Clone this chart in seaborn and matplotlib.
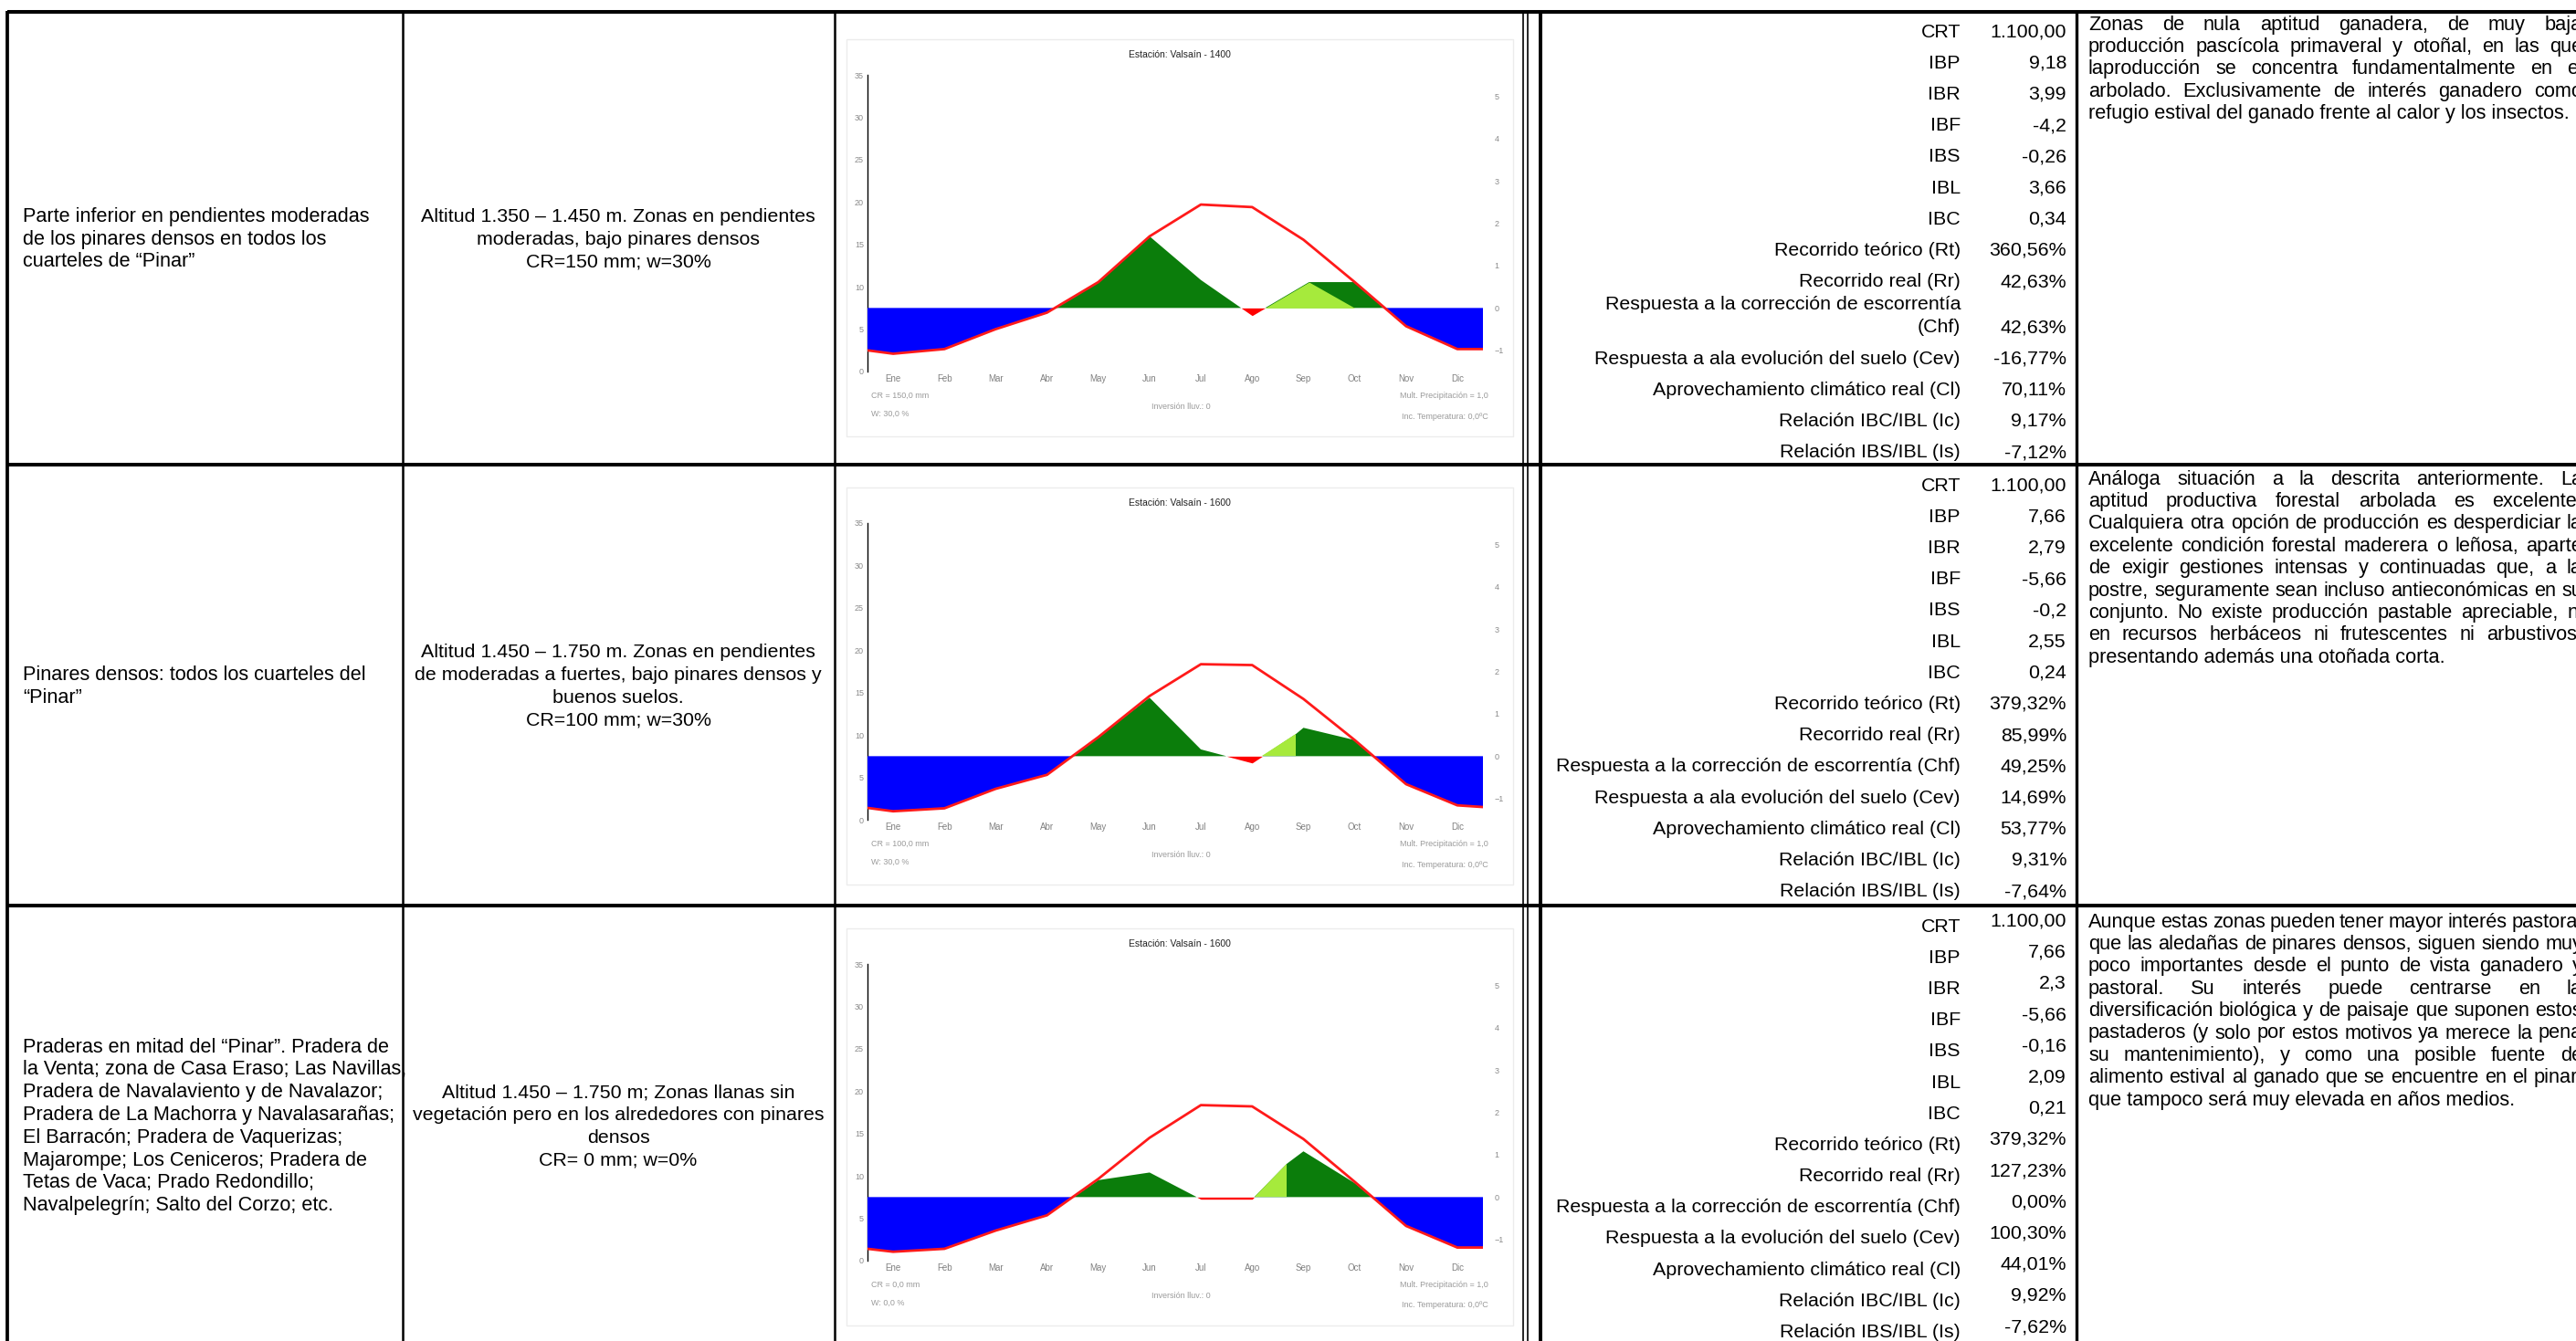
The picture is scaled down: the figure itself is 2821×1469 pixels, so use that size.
import numpy as np
import matplotlib
matplotlib.use("Agg")
import matplotlib.pyplot as plt
import seaborn as sns

ANCHO, ALTO = 2821, 1469

# ---------------- datos de los gráficos ----------------
meses = ["Ene", "Feb", "Mar", "Abr", "May", "Jun", "Jul", "Ago", "Sep", "Oct", "Nov", "Dic"]

# curva roja (eje derecho): borde izquierdo, 12 meses, borde derecho
x_curva = [-0.5, 0, 1, 2, 3, 4, 5, 6, 7, 8, 9, 10, 11, 11.5]
curva_1 = [-1.00, -1.08, -0.97, -0.50, -0.11, 0.61, 1.69, 2.44, 2.38, 1.61, 0.61, -0.43, -0.97, -0.97]
curva_2 = [-1.22, -1.30, -1.23, -0.77, -0.44, 0.45, 1.42, 2.17, 2.15, 1.35, 0.38, -0.66, -1.16, -1.20]
curva_3 = [-1.22, -1.29, -1.22, -0.79, -0.43, 0.43, 1.40, 2.17, 2.14, 1.37, 0.36, -0.68, -1.19, -1.19]

# curva verde (balance real) de Abr a Nov, con el punto en que acaba la recuperación
x_verde_1 = [3, 4, 5, 6, 7, 8.11, 9, 10]
verde_1 = [-0.11, 0.61, 1.69, 0.66, -0.18, 0.61, 0.61, -0.43]
x_verde_2 = [3, 4, 5, 6, 7, 7.85, 8, 9, 10]
verde_2 = [-0.44, 0.45, 1.38, 0.16, -0.16, 0.52, 0.67, 0.38, -0.66]
x_verde_3 = [3, 4, 5, 6, 7, 7.68, 8, 9, 10]
verde_3 = [-0.43, 0.40, 0.58, -0.05, -0.05, 0.79, 1.08, 0.33, -0.68]
fin_recuperacion = [8.11, 7.85, 7.68]

estaciones = ["Estación: Valsaín - 1400", "Estación: Valsaín - 1600", "Estación: Valsaín - 1600"]
textos_cr = ["CR = 150,0 mm", "CR = 100,0 mm", "CR = 0,0 mm"]
textos_w = ["W: 30,0 %", "W: 30,0 %", "W: 0,0 %"]

# ---------------- datos de la tabla ----------------
zonas = [
    ["Parte inferior en pendientes moderadas", "de los pinares densos en todos los", "cuarteles de “Pinar”"],
    ["Pinares densos: todos los cuarteles del", "“Pinar”"],
    ["Praderas en mitad del “Pinar”. Pradera de", "la Venta; zona de Casa Eraso; Las Navillas,",
     "Pradera de Navalaviento y de Navalazor;", "Pradera de La Machorra y Navalasarañas;",
     "El Barracón; Pradera de Vaquerizas;", "Majarompe; Los Ceniceros; Pradera de",
     "Tetas de Vaca; Prado Redondillo;", "Navalpelegrín; Salto del Corzo; etc."],
]
condiciones = [
    ["Altitud 1.350 – 1.450 m. Zonas en pendientes", "moderadas, bajo pinares densos", "CR=150 mm; w=30%"],
    ["Altitud 1.450 – 1.750 m. Zonas en pendientes", "de moderadas a fuertes, bajo pinares densos y",
     "buenos suelos.", "CR=100 mm; w=30%"],
    ["Altitud 1.450 – 1.750 m; Zonas llanas sin", "vegetación pero en los alrededores con pinares",
     "densos", "CR= 0 mm; w=0%"],
]

etiquetas_base = ["CRT", "IBP", "IBR", "IBF", "IBS", "IBL", "IBC", "Recorrido teórico (Rt)",
                  "Recorrido real (Rr)", "Respuesta a la corrección de escorrentía (Chf)",
                  "Respuesta a ala evolución del suelo (Cev)", "Aprovechamiento climático real (Cl)",
                  "Relación IBC/IBL (Ic)", "Relación IBS/IBL (Is)"]
etiquetas_1 = etiquetas_base[:9] + ["Respuesta a la corrección de escorrentía\n(Chf)"] + etiquetas_base[10:]
etiquetas_2 = etiquetas_base
etiquetas_3 = etiquetas_base[:10] + ["Respuesta a la evolución del suelo (Cev)"] + etiquetas_base[11:]

valores_1 = ["1.100,00", "9,18", "3,99", "-4,2", "-0,26", "3,66", "0,34", "360,56%", "42,63%",
             "42,63%", "-16,77%", "70,11%", "9,17%", "-7,12%"]
valores_2 = ["1.100,00", "7,66", "2,79", "-5,66", "-0,2", "2,55", "0,24", "379,32%", "85,99%",
             "49,25%", "14,69%", "53,77%", "9,31%", "-7,64%"]
valores_3 = ["1.100,00", "7,66", "2,3", "-5,66", "-0,16", "2,09", "0,21", "379,32%", "127,23%",
             "0,00%", "100,30%", "44,01%", "9,92%", "-7,62%"]

valoracion = [
    ["Zonas de nula aptitud ganadera, de muy baja",
     "producción pascícola primaveral y otoñal, en las que",
     "laproducción se concentra fundamentalmente en el",
     "arbolado. Exclusivamente de interés ganadero como",
     "refugio estival del ganado frente al calor y los insectos."],
    ["Análoga situación a la descrita anteriormente. La",
     "aptitud productiva forestal arbolada es excelente.",
     "Cualquiera otra opción de producción es desperdiciar la",
     "excelente condición forestal maderera o leñosa, aparte",
     "de exigir gestiones intensas y continuadas que, a la",
     "postre, seguramente sean incluso antieconómicas en su",
     "conjunto. No existe producción pastable apreciable, ni",
     "en recursos herbáceos ni frutescentes ni arbustivos,",
     "presentando además una otoñada corta."],
    ["Aunque estas zonas pueden tener mayor interés pastoral",
     "que las aledañas de pinares densos, siguen siendo muy",
     "poco importantes desde el punto de vista ganadero y",
     "pastoral. Su interés puede centrarse en la",
     "diversificación biológica y de paisaje que suponen estos",
     "pastaderos (y solo por estos motivos ya merece la pena",
     "su mantenimiento), y como una posible fuente de",
     "alimento estival al ganado que se encuentre en el pinar,",
     "que tampoco será muy elevada en años medios."],
]

curvas = [curva_1, curva_2, curva_3]
x_verdes = [x_verde_1, x_verde_2, x_verde_3]
verdes = [verde_1, verde_2, verde_3]
etiquetas = [etiquetas_1, etiquetas_2, etiquetas_3]
valores = [valores_1, valores_2, valores_3]

# ---------------- figura ----------------
sns.set_style("white")
plt.rcParams["font.family"] = ["Liberation Sans", "DejaVu Sans"]

fig = plt.figure(figsize=(ANCHO / 100, ALTO / 100), dpi=100)
fig.patch.set_facecolor("white")
ax_t = fig.add_axes([0, 0, 1, 1])
ax_t.set_xlim(0, ANCHO)
ax_t.set_ylim(ALTO, 0)
ax_t.axis("off")
renderer = fig.canvas.get_renderer()


def ajusta(texto, ancho):
    t = ax_t.text(0, 0, texto, fontsize=20)
    w = t.get_window_extent(renderer=renderer).width
    t.remove()
    return 20.0 * ancho / w


f_col1 = ajusta(zonas[0][0], 380)
f_col2 = ajusta(condiciones[0][0], 431)
f_col4 = ajusta(etiquetas_base[9], 443)
f_col5 = ajusta(valoracion[0][-1], 528)

# lineas de la tabla
for y in [13, 509, 992]:
    ax_t.plot([8, ANCHO + 5], [y, y], color="black", lw=2.9, solid_capstyle="butt")
for x, lw in [(8, 2.7), (441, 1.8), (914, 1.8), (1668, 1.2), (1673, 1.2), (1687, 2.8), (2274, 2.4)]:
    ax_t.plot([x, x], [12, ALTO + 5], color="black", lw=lw, solid_capstyle="butt")

centros = [262, 752, 1234]
for fila in range(3):
    n = len(zonas[fila])
    for j, linea in enumerate(zonas[fila]):
        ax_t.text(25, centros[fila] + (j - (n - 1) / 2) * 24.8, linea, ha="left", va="center",
                  fontsize=f_col1, color="black")
    n = len(condiciones[fila])
    for j, linea in enumerate(condiciones[fila]):
        ax_t.text(677, centros[fila] + (j - (n - 1) / 2) * 24.8, linea, ha="center", va="center",
                  fontsize=f_col2, color="black")

# columna de indices
inicio4 = [35, 532, 1015]
desfase_valor = [0, 0, -6]
for fila in range(3):
    extra = 0
    for k, (et, val) in enumerate(zip(etiquetas[fila], valores[fila])):
        partes = et.split("\n")
        if len(partes) > 1:
            extra += 16
        yk = inicio4[fila] + k * 34.2 + extra
        for j, p in enumerate(partes):
            ax_t.text(2147, yk - (len(partes) - 1 - j) * 25, p, ha="right", va="center",
                      fontsize=f_col4, color="black")
        ax_t.text(2263, yk + desfase_valor[fila], val, ha="right", va="center",
                  fontsize=f_col4, color="black")

# columna de valoracion (texto justificado)
inicio5 = [27, 525, 1010]
x_izq, x_der = 2287, 2828
for fila in range(3):
    lineas = valoracion[fila]
    for j, linea in enumerate(lineas):
        y = inicio5[fila] + j * 24.4
        palabras = linea.split()
        if j == len(lineas) - 1 or len(palabras) == 1:
            ax_t.text(x_izq, y, linea, ha="left", va="center", fontsize=f_col5, color="black")
            continue
        objs, anchos = [], []
        for p in palabras:
            t = ax_t.text(x_izq, y, p, ha="left", va="center", fontsize=f_col5, color="black")
            objs.append(t)
            anchos.append(t.get_window_extent(renderer=renderer).width)
        hueco = (x_der - x_izq - sum(anchos)) / (len(palabras) - 1)
        x = x_izq
        for t, w in zip(objs, anchos):
            t.set_x(x)
            x += w + hueco

# ---------------- graficos climaticos ----------------
ceros = [407, 898, 1381]
for fila in range(3):
    y0 = ceros[fila]
    ax_t.add_patch(plt.Rectangle((927, y0 - 364), 730, 435, facecolor="none",
                                 edgecolor="#ececec", lw=1.0))

    ax = fig.add_axes([950 / ANCHO, 1 - y0 / ALTO, 674 / ANCHO, 325 / ALTO])
    ax.patch.set_alpha(0)
    ax.set_xlim(-0.5, 11.5)
    ax.set_ylim(0, 35)
    ax.set_yticks(range(0, 36, 5))
    ax.tick_params(axis="y", length=0, labelsize=6.5, labelcolor="#8a8a8a", pad=3)
    ax.set_xticks(np.arange(0.5, 11, 1))
    ax.set_xticklabels([])
    ax.set_xticks(range(12), minor=True)
    ax.set_xticklabels(meses, minor=True)
    ax.tick_params(axis="x", which="major", length=5, width=0.8, color="#a0a0a0", direction="out")
    ax.tick_params(axis="x", which="minor", length=0, labelsize=7, labelcolor="#808080", pad=2)
    for lado in ["top", "right", "bottom"]:
        ax.spines[lado].set_visible(False)
    ax.spines["left"].set_color("black")
    ax.spines["left"].set_linewidth(1.0)

    ax2 = ax.twinx()
    xr = np.array(x_curva)
    yr = np.array(curvas[fila])
    xv = np.array(x_verdes[fila])
    yv = np.array(verdes[fila])
    lim = fin_recuperacion[fila]
    ax2.fill_between(xr, 0, yr, where=yr < 0, interpolate=True, color="#0000ff", lw=0)
    ax2.fill_between(xv, 0, yv, where=(yv > 0) & ((xv < 7) | (xv >= lim)), interpolate=True,
                     color="#0b7d0b", lw=0)
    ax2.fill_between(xv, 0, yv, where=(yv > 0) & (xv >= 7) & (xv <= lim), interpolate=True,
                     color="#a6ea3c", lw=0)
    ax2.fill_between(xv, 0, yv, where=(yv < 0) & (xv > 4) & (xv < 9), interpolate=True,
                     color="#ff0000", lw=0)
    sns.lineplot(x=xr, y=yr, ax=ax2, color="#ff1a1a", linewidth=2.0)
    ax2.set_xlim(-0.5, 11.5)
    ax2.set_ylim(-1.5, 5.5)
    ax2.set_yticks(range(-1, 6))
    ax2.tick_params(axis="y", length=0, labelsize=6.5, labelcolor="#8a8a8a", pad=9)
    ax2.set_xlabel("")
    ax2.set_ylabel("")
    for lado in ["top", "right", "bottom", "left"]:
        ax2.spines[lado].set_visible(False)

    ax_t.text(1292, y0 - 347, estaciones[fila], ha="center", va="center", fontsize=7.5, color="#222222")
    ax_t.text(954, y0 + 26, textos_cr[fila], ha="left", va="center", fontsize=6.5, color="#9a9a9a")
    ax_t.text(954, y0 + 46, textos_w[fila], ha="left", va="center", fontsize=6.5, color="#9a9a9a")
    ax_t.text(1293, y0 + 38, "Inversión lluv.: 0", ha="center", va="center", fontsize=6.5, color="#9a9a9a")
    ax_t.text(1630, y0 + 26, "Mult. Precipitación = 1,0", ha="right", va="center", fontsize=6.5,
              color="#9a9a9a")
    ax_t.text(1630, y0 + 49, "Inc. Temperatura: 0,0ºC", ha="right", va="center", fontsize=6.5,
              color="#9a9a9a")

fig.savefig("out.png", dpi=100, facecolor="white")
